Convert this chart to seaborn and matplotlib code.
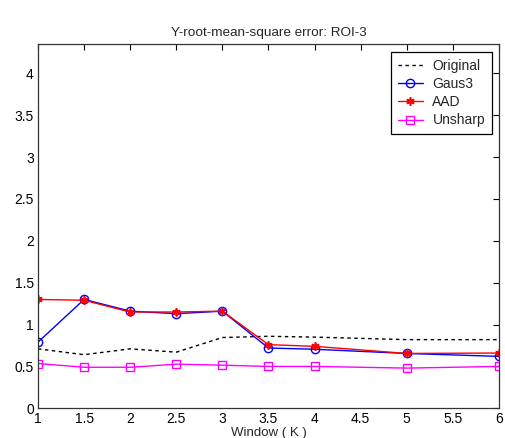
import matplotlib
matplotlib.use("Agg")
import matplotlib.pyplot as plt
import seaborn as sns
import numpy as np

window = [1, 1.5, 2, 2.5, 3, 3.5, 4, 5, 6]
original = [0.71, 0.64, 0.71, 0.67, 0.845, 0.86, 0.85, 0.82, 0.82]
gaus3 = [0.79, 1.30, 1.16, 1.13, 1.16, 0.72, 0.705, 0.655, 0.62]
aad = [1.30, 1.29, 1.15, 1.15, 1.16, 0.76, 0.74, 0.655, 0.66]
unsharp = [0.535, 0.49, 0.49, 0.527, 0.515, 0.50, 0.50, 0.48, 0.50]

xticks = [1, 1.5, 2, 2.5, 3, 3.5, 4, 4.5, 5, 5.5, 6]
yticks = [0, 0.5, 1, 1.5, 2, 2.5, 3, 3.5, 4]

sns.set_style("white")
plt.rcParams['font.family'] = ['Liberation Sans', 'DejaVu Sans']

W, H = 506, 438
fig = plt.figure(figsize=(W / 100, H / 100), dpi=100)
ax = fig.add_axes([0.0751, 0.0678, 0.9109, 0.8317])

sns.lineplot(x=window, y=original, ax=ax, color='black', linestyle=(0, (2.5, 2.5)),
             linewidth=1.0, label='Original')
sns.lineplot(x=window, y=gaus3, ax=ax, color='blue', marker='o', markersize=6,
             markerfacecolor='none', markeredgecolor='blue', markeredgewidth=1.0,
             linewidth=1.0, label='Gaus3')
sns.lineplot(x=window, y=aad, ax=ax, color='red', marker=(6, 2, 0), markersize=6,
             markerfacecolor='red', markeredgecolor='red', markeredgewidth=1.2,
             linewidth=1.0, label='AAD')
sns.lineplot(x=window, y=unsharp, ax=ax, color='magenta', marker='s', markersize=6,
             markerfacecolor='none', markeredgecolor='magenta', markeredgewidth=1.0,
             linewidth=1.0, label='Unsharp')

ax.set_xlim(1, 6)
ax.set_ylim(0, 4.35)
ax.set_xticks(xticks)
ax.set_xticklabels([f"{t:g}" for t in xticks])
ax.set_yticks(yticks)
ax.set_yticklabels([f"{t:g}" for t in yticks])
ax.tick_params(direction='in', top=True, right=True, length=4, width=0.8,
               labelsize=10, colors='black', pad=3)
for s in ax.spines.values():
    s.set_visible(True)
    s.set_color('#333333')
    s.set_linewidth(0.9)

ax.set_title("Y-root-mean-square error: ROI-3", fontsize=9.7, pad=6)
ax.set_xlabel("Window ( K )", fontsize=9.5, labelpad=0.3)
ax.set_ylabel("")

leg = ax.legend(loc='upper right', bbox_to_anchor=(492 / W, 1 - 52 / H),
                bbox_transform=fig.transFigure,
                fontsize=10, frameon=True, fancybox=False,
                edgecolor='black', borderaxespad=0, handlelength=1.8,
                labelspacing=0.3, borderpad=0.5, handletextpad=0.7)
leg.get_frame().set_linewidth(0.9)
leg.get_frame().set_alpha(1)

fig.savefig("out.png", dpi=100, facecolor='white')
